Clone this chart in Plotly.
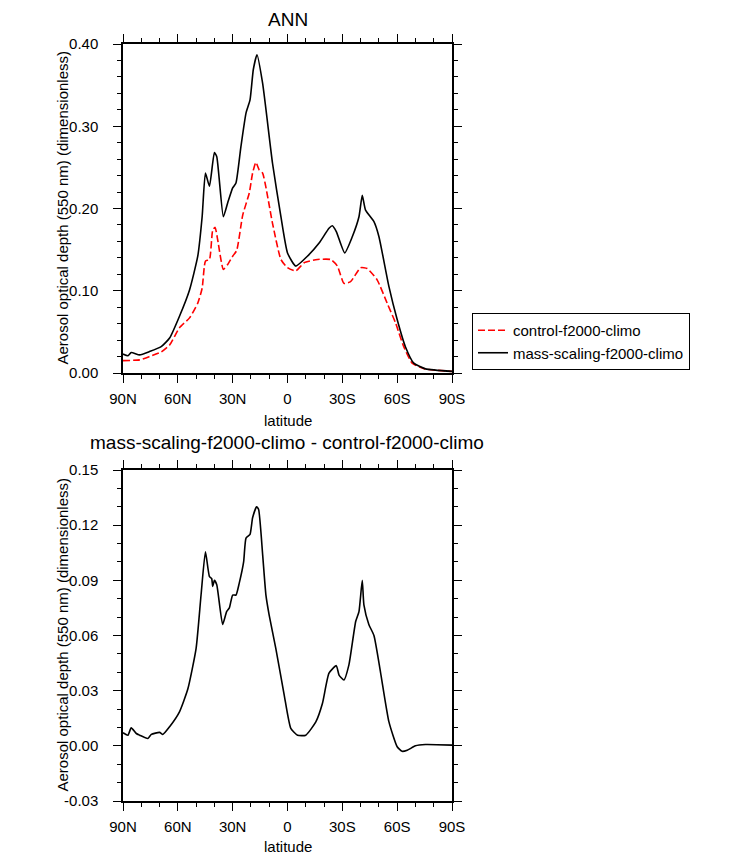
import plotly.graph_objects as go

# ---- data (latitude in degrees, positive = N) ----
lat_mass = [90, 87.3, 85.5, 80.9, 75.5, 69.1, 64.5, 59.1, 53.6, 49.1, 46.7, 44.9, 42.7, 40.0, 38.7,
            35.1, 32.7, 30.0, 28.2, 25.5, 22.7, 20.5, 18.7, 16.7, 13.6, 8.2, 3.6, 0.0, -4.5, -10.9,
            -17.3, -22.7, -24.5, -26.7, -31.3, -35.5, -39.1, -40.9, -42.7, -47.3, -50.0, -55.5,
            -60.0, -64.5, -69.1, -75.5, -90]
val_mass = [0.023, 0.021, 0.025, 0.022, 0.026, 0.032, 0.0425, 0.069, 0.101, 0.142, 0.19, 0.243, 0.227,
            0.268, 0.263, 0.19, 0.207, 0.225, 0.231, 0.275, 0.316, 0.332, 0.369, 0.387, 0.352, 0.255,
            0.19, 0.146, 0.13, 0.142, 0.158, 0.176, 0.179, 0.172, 0.146, 0.166, 0.19, 0.216, 0.198,
            0.184, 0.166, 0.105, 0.065, 0.032, 0.012, 0.005, 0.002]

lat_ctrl = [90, 80.9, 75.5, 69.1, 64.5, 59.1, 53.6, 49.1, 46.7, 44.9, 42.7, 40.9, 39.6, 38.2, 35.1,
            32.7, 30.0, 27.8, 24.5, 20.9, 19.1, 17.3, 15.5, 13.6, 8.2, 3.6, 0.0, -4.5, -9.1, -16.4,
            -23.6, -27.3, -30.9, -34.5, -40.0, -43.6, -49.1, -54.5, -59.1, -63.6, -68.2, -75.0, -90]
val_ctrl = [0.015, 0.016, 0.020, 0.0255, 0.034, 0.055, 0.067, 0.085, 0.103, 0.136, 0.138, 0.174, 0.177,
            0.162, 0.126, 0.132, 0.142, 0.149, 0.192, 0.219, 0.243, 0.256, 0.247, 0.243, 0.182, 0.138,
            0.128, 0.124, 0.134, 0.138, 0.138, 0.130, 0.109, 0.111, 0.128, 0.127, 0.113, 0.085, 0.061,
            0.032, 0.012, 0.005, 0.002]

lat_diff = [90, 87.3, 85.5, 82.7, 80.9, 76.4, 74.5, 70.0, 68.2, 64.5, 59.1, 54.5, 50.0, 47.3, 44.9,
            42.7, 41.5, 40.9, 40.0, 38.7, 35.5, 33.3, 31.8, 30.0, 28.2, 26.4, 24.0, 22.7, 20.5, 19.1,
            16.9, 15.8, 13.6, 11.8, 10.0, 6.4, 1.8, -1.8, -5.5, -10.0, -15.5, -19.1, -22.7, -26.7,
            -28.2, -30.9, -33.6, -37.3, -39.1, -40.9, -41.8, -44.5, -47.3, -50.9, -55.5, -60.0,
            -62.7, -65.5, -70.0, -75.5, -90]
val_diff = [0.0071, 0.0058, 0.0098, 0.0067, 0.0058, 0.004, 0.0062, 0.0073, 0.0062, 0.0104, 0.0185,
            0.031, 0.053, 0.082, 0.1055, 0.092, 0.091, 0.0867, 0.090, 0.0876, 0.066, 0.073, 0.075,
            0.082, 0.082, 0.0885, 0.100, 0.113, 0.115, 0.124, 0.130, 0.1285, 0.104, 0.082, 0.071,
            0.053, 0.0276, 0.0095, 0.0058, 0.0058, 0.013, 0.023, 0.0395, 0.0436, 0.0385, 0.0358,
            0.044, 0.0676, 0.073, 0.090, 0.0767, 0.066, 0.060, 0.040, 0.013, -0.0005, -0.003,
            -0.0024, 0.0, 0.0007, 0.0004]

lat_ticks = [90, 60, 30, 0, -30, -60, -90]
lat_labels = ["90N", "60N", "30N", "0", "30S", "60S", "90S"]
top_ticks = [0.0, 0.1, 0.2, 0.3, 0.4]
top_labels = ["0.00", "0.10", "0.20", "0.30", "0.40"]
bot_ticks = [-0.03, 0.0, 0.03, 0.06, 0.09, 0.12, 0.15]
bot_labels = ["-0.03", "0.00", "0.03", "0.06", "0.09", "0.12", "0.15"]

# page body has an 8px margin; size the figure to fill the rest of the window
OFF = 8
W, H = 732 - OFF, 859 - OFF
FONT = "Liberation Sans, Arial, Helvetica, sans-serif"


def px(x):
    return (x - OFF) / W


def py(y):
    return 1 - (y - OFF) / H


fig = go.Figure()
fig.add_trace(go.Scatter(x=lat_ctrl, y=val_ctrl, mode="lines", name="control-f2000-climo",
                         line=dict(color="#ff0000", width=1.6, dash="7px,3px", shape="spline", smoothing=0.5),
                         xaxis="x", yaxis="y"))
fig.add_trace(go.Scatter(x=lat_mass, y=val_mass, mode="lines", name="mass-scaling-f2000-climo",
                         line=dict(color="black", width=1.6, shape="spline", smoothing=0.5),
                         xaxis="x", yaxis="y"))
fig.add_trace(go.Scatter(x=lat_diff, y=val_diff, mode="lines", showlegend=False,
                         line=dict(color="black", width=1.6, shape="spline", smoothing=0.5),
                         xaxis="x2", yaxis="y2"))

xd = [px(123), px(452)]
common_axis = dict(showgrid=False, zeroline=False, showline=True, linecolor="black", linewidth=1.5,
                   mirror="ticks", ticks="outside", ticklen=8, tickwidth=1.2, tickcolor="black",
                   automargin=False,
                   tickfont=dict(size=15, color="black", family=FONT))
xminor = dict(dtick=10, ticklen=4, ticks="outside", tickcolor="black", tickwidth=1)

fig.update_layout(
    width=W, height=H, margin=dict(l=0, r=0, t=0, b=0, pad=0, autoexpand=False),
    paper_bgcolor="white", plot_bgcolor="white",
    font=dict(family=FONT, color="black", size=15),
    xaxis=dict(domain=xd, anchor="y", range=[90, -90], tickvals=lat_ticks, ticktext=lat_labels,
               minor=xminor, ticklabelstandoff=3, **common_axis),
    yaxis=dict(domain=[py(373), py(44)], anchor="x", range=[0, 0.4],
               tickvals=top_ticks, ticktext=top_labels,
               minor=dict(dtick=0.02, ticklen=4, ticks="outside", tickcolor="black", tickwidth=1),
               ticklabelstandoff=12, **common_axis),
    xaxis2=dict(domain=xd, anchor="y2", range=[90, -90], tickvals=lat_ticks, ticktext=lat_labels,
                minor=xminor, ticklabelstandoff=3, **common_axis),
    yaxis2=dict(domain=[py(801), py(470)], anchor="x2", range=[-0.03, 0.15],
                tickvals=bot_ticks, ticktext=bot_labels,
                minor=dict(dtick=0.01, ticklen=4, ticks="outside", tickcolor="black", tickwidth=1),
                ticklabelstandoff=12, **common_axis),
    legend=dict(x=px(472), y=py(313), xanchor="left", yanchor="top",
                bordercolor="black", borderwidth=1, bgcolor="white",
                font=dict(size=15, family=FONT, color="black"), tracegroupgap=0),
)

ann = [
    dict(text="ANN", x=px(288), y=py(8), yanchor="top", borderpad=0, font=dict(size=19)),
    dict(text="mass-scaling-f2000-climo - control-f2000-climo", x=px(287), y=py(442),
         font=dict(size=19)),
    dict(text="latitude", x=px(288), y=py(420), font=dict(size=15)),
    dict(text="latitude", x=px(288), y=py(846), font=dict(size=15)),
    dict(text="Aerosol optical depth (550 nm) (dimensionless)", x=px(62), y=py(208.5),
         textangle=-90, font=dict(size=15)),
    dict(text="Aerosol optical depth (550 nm) (dimensionless)", x=px(62), y=py(635.5),
         textangle=-90, font=dict(size=15)),
]
for a in ann:
    a.setdefault("yanchor", "middle")
    a.update(xref="paper", yref="paper", showarrow=False, xanchor="center")
    a["font"].update(family=FONT, color="black")
    fig.add_annotation(**a)

fig.write_html("out.html")
